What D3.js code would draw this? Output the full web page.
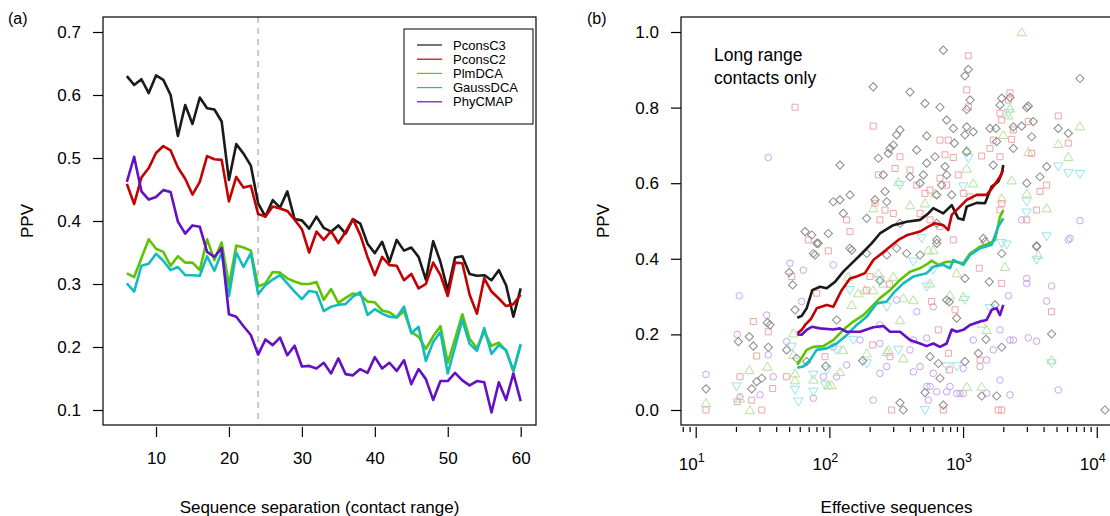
<!DOCTYPE html>
<html><head><meta charset="utf-8">
<script src="https://cdnjs.cloudflare.com/ajax/libs/d3/7.8.5/d3.min.js"></script>
<style>body{margin:0;background:#fff}svg{display:block}text{font-family:"Liberation Sans",Arial,Helvetica,sans-serif;fill:#000}</style>
</head><body><svg id="c" width="1110" height="516"></svg>
<script>
// ---------- Panel (a) data ----------
const separation = [6,7,8,9,10,11,12,13,14,15,16,17,18,19,20,21,22,23,24,25,26,27,28,29,30,31,32,33,34,35,36,37,38,39,40,41,42,43,44,45,46,47,48,49,50,51,52,53,54,55,56,57,58,59,60];
const ppvPconsC3 = [0.630,0.616,0.625,0.603,0.631,0.624,0.600,0.535,0.584,0.554,0.596,0.579,0.577,0.558,0.465,0.522,0.507,0.488,0.428,0.407,0.433,0.421,0.447,0.403,0.401,0.388,0.407,0.389,0.383,0.393,0.380,0.403,0.396,0.364,0.349,0.367,0.335,0.370,0.353,0.358,0.343,0.307,0.368,0.335,0.290,0.342,0.344,0.316,0.313,0.314,0.306,0.322,0.298,0.248,0.293];
const ppvPconsC2 = [0.459,0.427,0.469,0.484,0.508,0.519,0.512,0.485,0.467,0.442,0.462,0.503,0.498,0.497,0.431,0.470,0.453,0.456,0.411,0.407,0.423,0.420,0.416,0.402,0.387,0.350,0.383,0.370,0.384,0.365,0.383,0.403,0.378,0.343,0.314,0.343,0.330,0.329,0.306,0.316,0.293,0.300,0.334,0.314,0.281,0.334,0.333,0.283,0.253,0.309,0.288,0.277,0.265,0.268,0.283];
const ppvPlmDCA = [0.317,0.311,0.341,0.371,0.356,0.351,0.329,0.344,0.334,0.334,0.322,0.371,0.338,0.366,0.298,0.361,0.358,0.353,0.296,0.301,0.319,0.318,0.309,0.304,0.300,0.300,0.303,0.275,0.292,0.270,0.278,0.285,0.283,0.272,0.271,0.258,0.255,0.247,0.257,0.224,0.216,0.197,0.217,0.233,0.175,0.213,0.252,0.213,0.198,0.224,0.202,0.207,0.194,0.162,0.204];
const ppvGaussDCA = [0.301,0.288,0.329,0.332,0.348,0.337,0.322,0.327,0.314,0.314,0.313,0.344,0.321,0.350,0.281,0.350,0.327,0.349,0.284,0.298,0.307,0.314,0.301,0.288,0.276,0.289,0.287,0.257,0.264,0.267,0.268,0.280,0.287,0.251,0.260,0.253,0.248,0.247,0.264,0.222,0.232,0.178,0.208,0.224,0.158,0.200,0.243,0.205,0.194,0.230,0.189,0.203,0.195,0.162,0.204];
const ppvPhyCMAP = [0.462,0.502,0.447,0.434,0.438,0.449,0.446,0.399,0.380,0.393,0.391,0.351,0.343,0.357,0.252,0.248,0.233,0.219,0.188,0.212,0.203,0.215,0.187,0.202,0.169,0.170,0.166,0.175,0.158,0.182,0.157,0.155,0.165,0.159,0.184,0.166,0.175,0.162,0.179,0.141,0.165,0.149,0.116,0.146,0.146,0.159,0.147,0.139,0.146,0.144,0.096,0.144,0.116,0.158,0.114];
const methods = ["PconsC3","PconsC2","PlmDCA","GaussDCA","PhyCMAP"];
const sepTicks = [10,20,30,40,50,60];
const ppvTicksA = [0.1,0.2,0.3,0.4,0.5,0.6,0.7];
const longRangeCut = 24;

// ---------- Panel (b) data (x = log10 effective sequences) ----------
const lineC3Log = [1.760,1.793,1.830,1.872,1.930,1.980,2.042,2.104,2.167,2.242,2.316,2.378,2.478,2.578,2.678,2.740,2.777,2.852,2.915,2.964,3.002,3.027,3.102,3.164,3.214,3.263,3.289,3.301];
const lineC3Ppv = [0.244,0.249,0.269,0.317,0.326,0.322,0.339,0.366,0.388,0.414,0.441,0.467,0.489,0.498,0.503,0.520,0.534,0.520,0.542,0.507,0.503,0.538,0.548,0.547,0.591,0.604,0.626,0.648];
const lineC2Log = [1.760,1.793,1.818,1.860,1.905,1.980,2.029,2.092,2.154,2.204,2.266,2.329,2.391,2.453,2.516,2.578,2.678,2.740,2.790,2.852,2.889,2.915,2.977,3.027,3.102,3.176,3.226,3.276,3.301];
const lineC2Ppv = [0.203,0.212,0.225,0.240,0.269,0.278,0.273,0.317,0.348,0.353,0.362,0.397,0.414,0.432,0.450,0.462,0.472,0.485,0.494,0.489,0.476,0.516,0.538,0.556,0.569,0.569,0.591,0.617,0.635];
const linePlmLog = [1.760,1.830,1.880,1.955,2.029,2.104,2.179,2.254,2.329,2.378,2.453,2.528,2.603,2.678,2.740,2.765,2.815,2.877,2.940,3.002,3.052,3.127,3.201,3.239,3.276,3.301];
const linePlmPpv = [0.119,0.159,0.167,0.169,0.185,0.212,0.234,0.251,0.278,0.296,0.317,0.344,0.366,0.375,0.388,0.395,0.384,0.392,0.392,0.388,0.414,0.432,0.441,0.450,0.511,0.529];
const lineGaussLog = [1.760,1.805,1.855,1.905,1.980,2.054,2.129,2.204,2.279,2.354,2.429,2.478,2.553,2.628,2.728,2.777,2.852,2.902,2.927,3.002,3.052,3.127,3.214,3.263,3.301];
const lineGaussPpv = [0.112,0.115,0.132,0.159,0.163,0.176,0.198,0.225,0.247,0.282,0.287,0.309,0.335,0.353,0.362,0.379,0.384,0.375,0.397,0.384,0.410,0.428,0.437,0.485,0.507];
const linePhyLog = [1.760,1.793,1.830,1.868,1.930,2.029,2.079,2.129,2.229,2.329,2.404,2.453,2.528,2.603,2.678,2.728,2.777,2.827,2.877,2.915,2.952,3.002,3.052,3.127,3.176,3.214,3.251,3.276,3.301];
const linePhyPpv = [0.200,0.199,0.212,0.220,0.216,0.213,0.216,0.207,0.207,0.219,0.222,0.207,0.207,0.185,0.176,0.169,0.176,0.167,0.176,0.213,0.207,0.212,0.225,0.234,0.238,0.265,0.269,0.251,0.278];

const ptsC3 = [[2.852,0.952],[3.039,0.901],[3.014,0.884],[2.328,0.855],[2.603,0.841],[2.715,0.811],[2.827,0.801],[3.052,0.820],[3.027,0.795],[3.289,0.825],[3.276,0.807],[3.351,0.827],[3.488,0.804],[3.476,0.800],[3.874,0.877],[2.877,0.767],[2.927,0.745],[3.027,0.749],[3.076,0.736],[3.201,0.745],[3.246,0.745],[3.376,0.749],[3.438,0.751],[3.525,0.763],[3.712,0.745],[3.787,0.732],[2.528,0.741],[2.503,0.728],[2.728,0.725],[3.014,0.728],[3.513,0.723],[2.478,0.701],[2.453,0.692],[2.653,0.688],[2.935,0.706],[3.251,0.710],[3.376,0.692],[3.027,0.683],[2.366,0.666],[2.441,0.679],[2.790,0.670],[2.079,0.648],[2.728,0.653],[2.865,0.644],[3.226,0.648],[3.625,0.644],[2.403,0.622],[2.603,0.617],[2.703,0.622],[2.877,0.622],[3.575,0.617],[2.678,0.600],[2.840,0.595],[2.915,0.569],[2.416,0.578],[2.803,0.569],[2.029,0.551],[2.154,0.569],[2.079,0.556],[2.341,0.556],[2.429,0.551],[3.476,0.600],[2.104,0.520],[2.279,0.507],[2.528,0.494],[2.803,0.494],[2.803,0.450],[1.818,0.472],[1.868,0.463],[1.992,0.467],[1.905,0.441],[2.154,0.428],[3.151,0.454],[3.164,0.445],[3.550,0.432],[1.917,0.441],[2.167,0.423],[1.880,0.414],[1.893,0.410],[1.700,0.364],[1.725,0.331],[2.378,0.342],[1.743,0.265],[2.054,0.238],[1.319,0.181],[1.401,0.194],[1.431,0.169],[1.536,0.231],[1.556,0.225],[1.543,0.166],[1.494,0.084],[1.456,0.075],[1.419,0.056],[1.077,0.056],[1.680,0.159],[1.755,0.137],[1.830,0.128],[1.972,0.116],[2.249,0.130],[2.279,0.414],[2.429,0.410],[2.503,0.428],[2.578,0.414],[2.678,0.410],[2.803,0.441],[2.877,0.291],[2.897,0.286],[2.952,0.243],[3.014,0.348],[3.014,0.128],[2.753,0.141],[2.815,0.123],[2.827,0.084],[2.715,0.046],[2.528,0.019],[2.553,0.0],[2.852,0.013],[3.139,0.037],[3.251,0.037],[3.239,0.278],[3.196,0.339],[3.114,0.150],[3.171,0.187],[3.289,0.166],[3.550,0.434],[3.662,0.201],[4.061,0.0],[3.289,0.414]];
const ptsC2 = [[3.039,0.937],[3.027,0.847],[3.039,0.802],[1.743,0.801],[2.328,0.751],[3.351,0.839],[3.339,0.820],[3.276,0.785],[3.289,0.767],[3.488,0.763],[3.712,0.778],[3.787,0.706],[3.513,0.679],[3.625,0.595],[3.575,0.578],[3.550,0.529],[3.476,0.503],[2.827,0.714],[2.890,0.714],[2.927,0.668],[2.865,0.675],[3.139,0.672],[3.226,0.714],[3.201,0.692],[3.276,0.670],[3.363,0.716],[3.376,0.741],[2.528,0.670],[2.491,0.639],[2.603,0.635],[2.366,0.622],[2.653,0.595],[2.753,0.582],[2.827,0.613],[2.877,0.595],[2.964,0.622],[3.002,0.573],[3.052,0.564],[2.715,0.573],[2.341,0.547],[2.416,0.529],[2.378,0.503],[2.678,0.520],[2.154,0.472],[2.129,0.503],[1.842,0.450],[3.276,0.529],[3.289,0.546],[1.992,0.421],[1.718,0.353],[1.905,0.309],[2.279,0.317],[2.304,0.353],[2.449,0.333],[2.765,0.287],[2.940,0.265],[2.815,0.212],[2.897,0.106],[2.890,0.150],[1.431,0.234],[1.543,0.207],[1.456,0.143],[1.331,0.088],[1.311,0.022],[1.419,0.026],[1.494,0.0],[1.077,0.0],[1.576,0.057],[1.680,0.088],[1.967,0.141],[2.466,0.0],[2.852,0.0],[3.263,0.0],[3.289,0.0],[3.127,0.132],[3.121,0.375],[3.289,0.335],[3.662,0.260],[2.324,0.172],[2.453,0.141],[2.753,0.503],[2.927,0.450],[2.478,0.520],[2.827,0.485]];
const ptsPlm = [[3.438,1.0],[3.874,0.751],[3.712,0.704],[3.787,0.670],[3.625,0.534],[3.351,0.798],[3.339,0.780],[3.488,0.683],[3.027,0.639],[3.076,0.600],[3.363,0.608],[3.289,0.560],[3.476,0.573],[2.790,0.573],[2.603,0.542],[2.516,0.604],[2.715,0.547],[2.328,0.534],[3.301,0.728],[3.027,0.688],[3.563,0.410],[3.662,0.132],[3.314,0.379],[3.176,0.212],[3.027,0.062],[3.139,0.062],[2.902,0.304],[2.777,0.423],[2.528,0.238],[2.429,0.154],[2.266,0.317],[2.167,0.278],[2.104,0.159],[2.079,0.101],[2.017,0.066],[1.880,0.081],[1.743,0.097],[1.730,0.203],[1.536,0.115],[1.401,0.106],[1.331,0.031],[1.406,0.0],[1.077,0.019],[2.366,0.362],[2.403,0.335],[2.328,0.317],[2.478,0.353],[2.553,0.296],[2.628,0.291],[2.740,0.423],[2.952,0.362],[3.002,0.300],[3.139,0.229],[1.730,0.146],[1.743,0.079],[1.992,0.066],[2.141,0.353],[2.216,0.309],[2.279,0.150],[2.441,0.159],[2.553,0.137],[2.753,0.335]];
const ptsGauss = [[3.712,0.644],[3.787,0.626],[3.874,0.624],[3.476,0.551],[3.625,0.459],[3.476,0.522],[3.039,0.666],[3.339,0.785],[2.528,0.595],[3.002,0.591],[2.690,0.454],[3.326,0.437],[3.550,0.397],[3.289,0.441],[2.952,0.115],[2.715,0.0],[2.728,0.326],[2.628,0.392],[2.516,0.159],[2.154,0.317],[2.054,0.159],[1.980,0.106],[1.880,0.093],[1.768,0.022],[1.743,0.053],[1.967,0.066],[1.306,0.062],[1.718,0.167],[3.662,0.123],[2.378,0.344],[2.429,0.273],[2.777,0.370],[2.877,0.115],[3.014,0.291],[3.201,0.269],[2.179,0.185],[2.279,0.123],[1.880,0.048]];
const ptsPhy = [[1.543,0.668],[3.800,0.454],[3.874,0.501],[3.438,0.503],[3.787,0.450],[3.476,0.348],[3.476,0.335],[3.662,0.328],[3.625,0.288],[3.488,0.191],[3.550,0.182],[3.376,0.185],[3.339,0.302],[3.276,0.212],[3.276,0.079],[3.351,0.040],[3.712,0.053],[3.226,0.159],[3.176,0.132],[3.002,0.110],[2.952,0.044],[2.902,0.062],[2.777,0.097],[2.728,0.062],[2.740,0.026],[2.628,0.101],[2.603,0.159],[2.653,0.260],[2.503,0.291],[2.378,0.225],[2.378,0.097],[2.328,0.026],[2.428,0.115],[2.229,0.185],[2.029,0.384],[2.129,0.119],[2.054,0.088],[1.880,0.031],[1.793,0.287],[1.805,0.370],[1.705,0.388],[1.680,0.181],[1.531,0.251],[1.543,0.146],[1.326,0.302],[1.077,0.094],[1.311,0.200],[1.481,0.040],[3.002,0.044],[3.176,0.044],[2.378,0.176],[2.678,0.115],[2.753,0.062],[2.803,0.048],[2.877,0.048],[2.977,0.044],[3.076,0.185],[3.127,0.115],[3.351,0.185],[2.029,0.167],[1.955,0.088],[1.580,0.088],[1.331,0.035],[2.628,0.185],[2.728,0.190],[2.777,0.273]];
const ppvTicksB = [0.0,0.2,0.4,0.6,0.8,1.0];
const neffMajor = [1,2,3,4];

// ---------- styling ----------
const lineColors = ["#1a1a1a","#c40000","#5fc400","#13bcbc","#6410c4"];
const ptColors = ["#8a8a8a","#f0a4a4","#b4e29c","#97e4ec","#c7a4f0"];
const FONT = 17;

const svg = d3.select("#c");
svg.append("rect").attr("width",1110).attr("height",516).attr("fill","#fff");

// ================= Panel (a) =================
const A = {l:103,r:536,t:17,b:425};
const xA = d3.scaleLinear().domain([2.73,62.1]).range([A.l,A.r]);
const yA = d3.scaleLinear().domain([0.0762,0.7238]).range([A.b,A.t]);
const gA = svg.append("g");
gA.append("line").attr("x1",xA(longRangeCut)).attr("x2",xA(longRangeCut)).attr("y1",A.t).attr("y2",A.b)
  .attr("stroke","#c8c8c8").attr("stroke-width",2).attr("stroke-dasharray","6,5");
const seriesA = [ppvPconsC3,ppvPconsC2,ppvPlmDCA,ppvGaussDCA,ppvPhyCMAP];
const lineA = d3.line().x((d,i)=>xA(separation[i])).y(d=>yA(d));
seriesA.forEach((s,k)=>{
  gA.append("path").attr("d",lineA(s)).attr("fill","none").attr("stroke",lineColors[k])
    .attr("stroke-width",2.6).attr("stroke-linejoin","round");
});
gA.append("rect").attr("x",A.l).attr("y",A.t).attr("width",A.r-A.l).attr("height",A.b-A.t)
  .attr("fill","none").attr("stroke","#000").attr("stroke-width",1.2);
const axA = d3.axisBottom(xA).tickValues(sepTicks).tickSize(10).tickPadding(15).tickFormat(d3.format("d"));
const gxA = gA.append("g").attr("transform",`translate(0,${A.b+2})`).call(axA);
gxA.select(".domain").remove();
gxA.selectAll("line").attr("stroke","#000").attr("stroke-width",1.2);
gxA.selectAll("text").attr("font-size",FONT).attr("font-family","Liberation Sans, Arial, sans-serif");
const ayA = d3.axisLeft(yA).tickValues(ppvTicksA).tickSize(10).tickPadding(12).tickFormat(d3.format(".1f"));
const gyA = gA.append("g").attr("transform",`translate(${A.l},0)`).call(ayA);
gyA.select(".domain").remove();
gyA.selectAll("line").attr("stroke","#000").attr("stroke-width",1.2);
gyA.selectAll("text").attr("font-size",FONT).attr("font-family","Liberation Sans, Arial, sans-serif");
gA.append("text").attr("x",(A.l+A.r)/2).attr("y",513).attr("text-anchor","middle").attr("font-size",FONT)
  .text("Sequence separation (contact range)");
gA.append("text").attr("transform",`translate(33,${(A.t+A.b)/2}) rotate(-90)`).attr("text-anchor","middle")
  .attr("font-size",FONT).text("PPV");
gA.append("text").attr("x",8).attr("y",24).attr("font-size",16).text("(a)");
const L = {x:404,y:29,w:129,h:95};
gA.append("rect").attr("x",L.x).attr("y",L.y).attr("width",L.w).attr("height",L.h)
  .attr("fill","#fff").attr("stroke","#000").attr("stroke-width",1);
methods.forEach((m,k)=>{
  const yy = 45 + k*14.2;
  gA.append("line").attr("x1",417).attr("x2",442).attr("y1",yy).attr("y2",yy)
    .attr("stroke",lineColors[k]).attr("stroke-width",1.2);
  gA.append("text").attr("x",453).attr("y",yy+4.5).attr("font-size",13).text(m);
});

// ================= Panel (b) =================
const B = {l:681,r:1112,t:17,b:425};
const xB = d3.scaleLog().domain([Math.pow(10,0.89),Math.pow(10,4.114)]).range([B.l,B.r]);
const yB = d3.scaleLinear().domain([-0.0397,1.0397]).range([B.b,B.t]);
const gB = svg.append("g");
const ptsAll = [ptsC3,ptsC2,ptsPlm,ptsGauss,ptsPhy];
const shapes = [d3.symbolSquare,d3.symbolSquare,d3.symbolTriangle,d3.symbolTriangle,d3.symbolCircle];
const sizes = [34,36,38,38,34];
const rot = [" rotate(45)",""," translate(0,1)"," rotate(180) translate(0,1)",""];
[4,3,2,1,0].forEach(k=>{
  const sym = d3.symbol().type(shapes[k]).size(sizes[k]);
  gB.append("g").selectAll("path").data(ptsAll[k]).join("path")
    .attr("d",sym)
    .attr("transform",d=>`translate(${xB(Math.pow(10,d[0]))},${yB(d[1])})${rot[k]}`)
    .attr("fill","none").attr("stroke",ptColors[k]).attr("stroke-width",1);
});
const linesB = [[lineC3Log,lineC3Ppv],[lineC2Log,lineC2Ppv],[linePlmLog,linePlmPpv],[lineGaussLog,lineGaussPpv],[linePhyLog,linePhyPpv]];
const lineB = d3.line().x(d=>xB(Math.pow(10,d[0]))).y(d=>yB(d[1]));
[0,1,2,3,4].forEach(k=>{
  const pts = linesB[k][0].map((v,i)=>[v,linesB[k][1][i]]);
  gB.append("path").attr("d",lineB(pts)).attr("fill","none").attr("stroke",lineColors[k])
    .attr("stroke-width",2.6).attr("stroke-linejoin","round");
});
gB.append("rect").attr("x",B.l).attr("y",B.t).attr("width",B.r-B.l).attr("height",B.b-B.t)
  .attr("fill","none").attr("stroke","#000").attr("stroke-width",1.2);
const minorVals = [];
for (let e=0;e<=4;e++) for (let m=2;m<=9;m++){ const v=m*Math.pow(10,e); if (xB(v)>=B.l && xB(v)<=B.r) minorVals.push(v); }
const gxB = gB.append("g").attr("transform",`translate(0,${B.b+2})`);
gxB.call(d3.axisBottom(xB).tickValues(minorVals).tickSize(5).tickFormat(""));
const majVals = neffMajor.map(e=>Math.pow(10,e));
gxB.call(g=>g.append("g").call(d3.axisBottom(xB).tickValues(majVals).tickSize(11).tickFormat("")));
gxB.selectAll(".domain").remove();
gxB.selectAll("line").attr("stroke","#000").attr("stroke-width",1.2);
neffMajor.forEach(e=>{
  const t = gB.append("text").attr("x",xB(Math.pow(10,e))-4).attr("y",470).attr("text-anchor","middle").attr("font-size",FONT);
  t.append("tspan").text("10");
  t.append("tspan").attr("dy",-8).attr("font-size",12.5).text(e);
});
const ayB = d3.axisLeft(yB).tickValues(ppvTicksB).tickSize(10).tickPadding(12).tickFormat(d3.format(".1f"));
const gyB = gB.append("g").attr("transform",`translate(${B.l},0)`).call(ayB);
gyB.select(".domain").remove();
gyB.selectAll("line").attr("stroke","#000").attr("stroke-width",1.2);
gyB.selectAll("text").attr("font-size",FONT).attr("font-family","Liberation Sans, Arial, sans-serif");
gB.append("text").attr("x",(B.l+B.r)/2).attr("y",513).attr("text-anchor","middle").attr("font-size",FONT)
  .text("Effective sequences");
gB.append("text").attr("transform",`translate(609,${(B.t+B.b)/2}) rotate(-90)`).attr("text-anchor","middle")
  .attr("font-size",FONT).text("PPV");
gB.append("text").attr("x",587).attr("y",24).attr("font-size",16).text("(b)");
gB.append("text").attr("x",714).attr("y",61).attr("font-size",17.5).text("Long range");
gB.append("text").attr("x",714).attr("y",84).attr("font-size",17.5).text("contacts only");
</script></body></html>
